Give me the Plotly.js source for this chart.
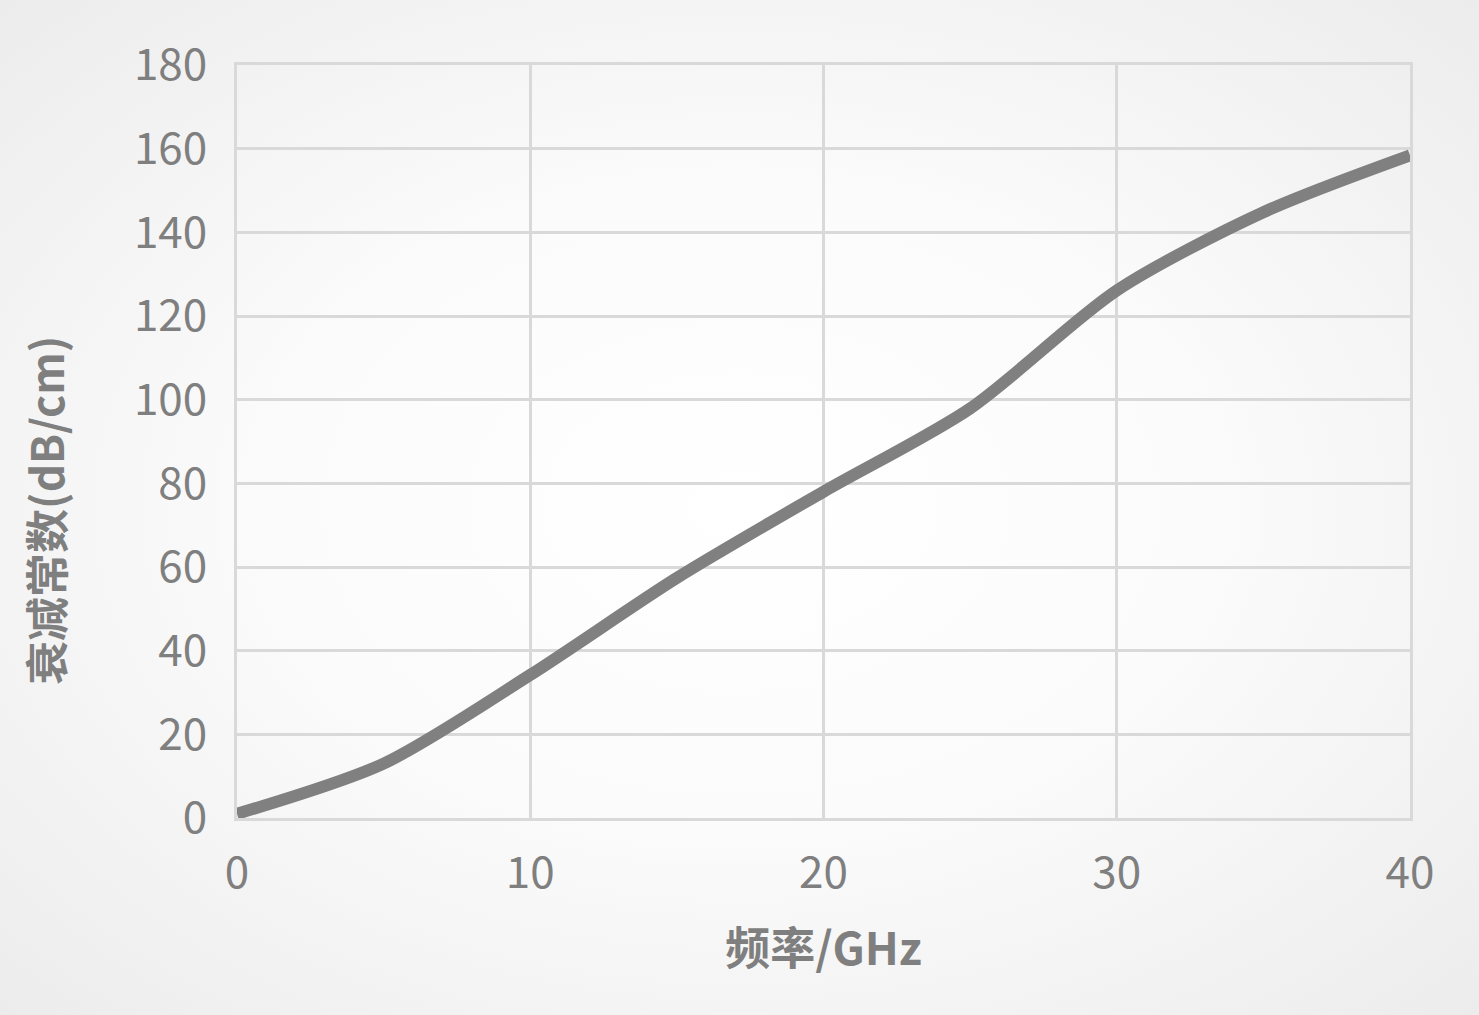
<!DOCTYPE html>
<html>
<head>
<meta charset="utf-8">
<script src="https://cdn.plot.ly/plotly-3.0.1.min.js"></script>
<style>
  html, body { margin: 0; padding: 0; }
  body {
    width: 1479px; height: 1015px; overflow: hidden;
    background: radial-gradient(ellipse at center, #ffffff 0%, #fbfbfb 45%, #ececec 100%);
  }
  #chart { width: 1479px; height: 1015px; }
</style>
</head>
<body>
<div id="chart"></div>
<script>
// 频率 (GHz) 与衰减常数 (dB/cm)
const freq = [0, 5, 10, 15, 20, 25, 30, 35, 40];
const attenuation = [1, 13, 34.2, 57.4, 78, 97.9, 126.1, 144.8, 158.4];
const xTicks = [0, 10, 20, 30, 40];
const yTicks = [0, 20, 40, 60, 80, 100, 120, 140, 160, 180];

const font = '"Noto Sans CJK SC", "Open Sans", sans-serif';
const grid = '#d9d9d9';
const textGray = '#7f7f7f';

const data = [{
    x: freq,
    y: attenuation,
    type: 'scatter',
    mode: 'lines',
    line: { color: '#808080', width: 12, shape: 'spline', smoothing: 0.8 },
    hoverinfo: 'x+y'
}];

const layout = {
    width: 1479,
    height: 1015,
    margin: { l: 237, r: 69, t: 65, b: 197 },
    paper_bgcolor: 'rgba(0,0,0,0)',
    plot_bgcolor: 'rgba(0,0,0,0)',
    showlegend: false,
    font: { family: font, color: textGray },
    xaxis: {
        range: [0, 40],
        tickvals: xTicks,
        ticktext: xTicks.map(String),
        showgrid: true,
        gridcolor: grid,
        gridwidth: 3,
        zeroline: false,
        showline: true,
        linecolor: grid,
        linewidth: 3,
        mirror: true,
        ticks: '',
        ticklabelstandoff: 14,
        tickfont: { size: 44, color: textGray, family: font },
        title: {
            text: '<b>频率/GHz</b>',
            font: { size: 45, color: textGray, family: font },
            standoff: 34
        }
    },
    yaxis: {
        range: [0, 180],
        tickvals: yTicks,
        ticktext: yTicks.map(String),
        showgrid: true,
        gridcolor: grid,
        gridwidth: 3,
        zeroline: false,
        showline: true,
        linecolor: grid,
        linewidth: 3,
        mirror: true,
        ticks: '',
        ticklabelstandoff: 18,
        tickfont: { size: 44, color: textGray, family: font }
    },
    annotations: [{
        text: '<b>衰减常数(dB/cm)</b>',
        textangle: -90,
        xref: 'paper', yref: 'paper',
        x: -0.1637, y: 0.409,
        xanchor: 'center', yanchor: 'middle',
        showarrow: false,
        font: { size: 44, color: textGray, family: font }
    }]
};

Plotly.newPlot('chart', data, layout, { displayModeBar: false, staticPlot: true });
</script>
</body>
</html>
